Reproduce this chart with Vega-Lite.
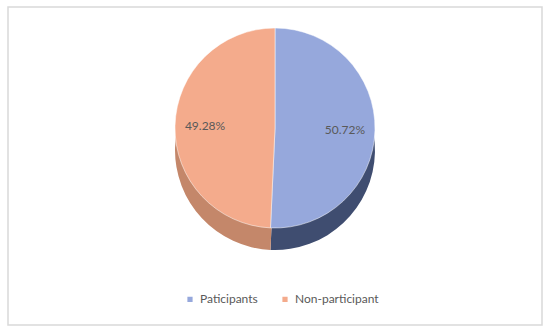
{
  "$schema": "https://vega.github.io/schema/vega-lite/v6.json",
  "width": 550,
  "height": 332,
  "autosize": {"type": "fit", "contains": "padding"},
  "padding": {"left": 7, "right": 7, "top": 6, "bottom": 6},
  "background": "white",
  "config": {"view": {"stroke": null}, "font": "Lato"},
  "layer": [
    {
      "data": {"values": [{"frame": 1}]},
      "mark": {"type": "rect", "fill": null, "stroke": "#d9d9d9", "strokeWidth": 1.5},
      "encoding": {}
    },
    {
      "data": {"name": "pie", "values": [
        {"group": "Paticipants", "share": 50.72, "label": "50.72%", "order": 1},
        {"group": "Non-participant", "share": 49.28, "label": "49.28%", "order": 2}
      ]},
      "layer": [
        {
          "mark": {"type": "arc", "outerRadius": 100, "yOffset": -16},
          "encoding": {
            "theta": {"field": "share", "type": "quantitative", "stack": true},
            "order": {"field": "order", "type": "quantitative"},
            "color": {"field": "group", "type": "nominal", "sort": ["Paticipants", "Non-participant"],
              "scale": {"domain": ["Paticipants", "Non-participant"], "range": ["#3f4d70", "#c4876a"]},
              "legend": null}
          }
        },
        {
          "mark": {"type": "arc", "outerRadius": 100, "yOffset": -38, "stroke": "white", "strokeWidth": 0.5},
          "encoding": {
            "theta": {"field": "share", "type": "quantitative", "stack": true},
            "order": {"field": "order", "type": "quantitative"},
            "color": {"field": "group", "type": "nominal", "sort": ["Paticipants", "Non-participant"],
              "scale": {"domain": ["Paticipants", "Non-participant"], "range": ["#96a8dc", "#f4ab8c"]},
              "legend": {"title": null, "orient": "none", "direction": "horizontal", "legendX": 176, "legendY": 286,
                "symbolType": "square", "symbolSize": 45, "labelFontSize": 12, "labelColor": "#595959",
                "labelOffset": 4, "columnPadding": 20, "labelFont": "Lato"}}
          }
        },
        {
          "mark": {"type": "text", "radius": 70, "yOffset": -38, "fontSize": 12, "color": "#595959", "font": "Lato"},
          "encoding": {
            "theta": {"field": "share", "type": "quantitative", "stack": true},
            "order": {"field": "order", "type": "quantitative"},
            "text": {"field": "label"}
          }
        }
      ],
      "resolve": {"scale": {"color": "independent"}}
    }
  ]
}
